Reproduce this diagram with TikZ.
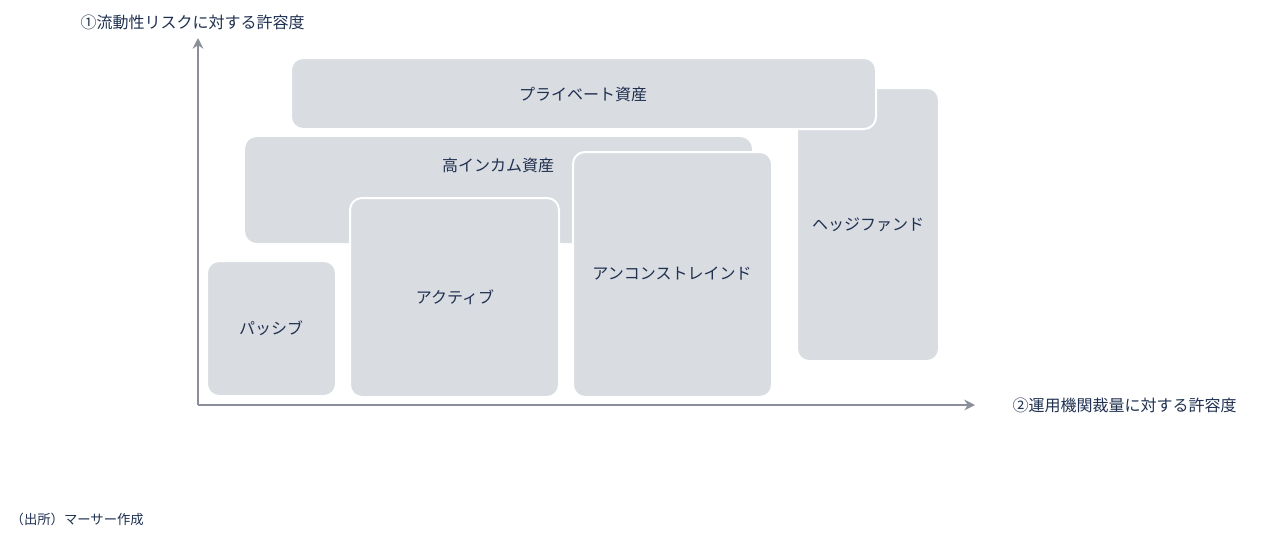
\documentclass[tikz,border=0pt]{standalone}
\usepackage{fontspec}
\setmainfont{Noto Sans CJK JP}
\usetikzlibrary{arrows.meta}
\definecolor{boxc}{HTML}{D9DCE1}
\definecolor{txt}{HTML}{1F3050}
\definecolor{axc}{HTML}{8A8F99}
\begin{document}
\begin{tikzpicture}[x=0.75pt,y=-0.75pt,
  bx/.style={fill=boxc,draw=white,line width=1.5pt,rounded corners=9pt},
  lb/.style={text=txt,font=\fontsize{12}{14}\selectfont},
  ax/.style={draw=axc,line width=1.5pt,-{Stealth[length=8pt,width=8pt]}}]
\useasboundingbox (0,0) rectangle (1280,537);
\draw[bx] (797,88) rectangle (939,361);
\draw[bx] (291,58) rectangle (876,129);
\draw[bx,draw=none] (245,137) rectangle (752,243);
\draw[bx] (207,261) rectangle (336,396);
\draw[bx] (350,198) rectangle (559,397);
\draw[bx] (573,152) rectangle (772,397);
\node[lb] (pa) at (583,94) {プライベート資産};
\node[lb] (hi) at (498,165) {高インカム資産};
\node[lb] (hf) at (868,225) {ヘッジファンド};
\node[lb] (pv) at (271,328) {パッシブ};
\node[lb] (ac) at (455,297) {アクティブ};
\node[lb] (uc) at (672,274) {アンコンストレインド};
\coordinate (o) at (198,405);
\coordinate (yt) at (198,38);
\coordinate (xt) at (975,405);
\draw[ax] (o) -- (yt);
\draw[ax] (o) -- (xt);
\node[lb,anchor=west] (yl) at (76,22) {①流動性リスクに対する許容度};
\node[lb,anchor=west] (xl) at (1008,405) {②運用機関裁量に対する許容度};
\node[text=txt,anchor=west,font=\fontsize{10}{12}\selectfont] (src) at (6,519) {（出所）マーサー作成};
\end{tikzpicture}
\end{document}
